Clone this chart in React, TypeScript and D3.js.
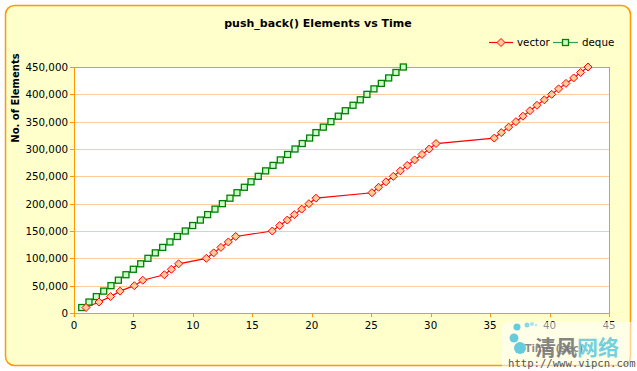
import React from "react";
import * as d3 from "d3";

const elements = [
  10000, 20000, 30000, 40000, 50000, 60000, 70000, 80000, 90000, 100000,
  110000, 120000, 130000, 140000, 150000, 160000, 170000, 180000, 190000, 200000,
  210000, 220000, 230000, 240000, 250000, 260000, 270000, 280000, 290000, 300000,
  310000, 320000, 330000, 340000, 350000, 360000, 370000, 380000, 390000, 400000,
  410000, 420000, 430000, 440000, 450000,
];
const vectorTimes = [
  1.01, 2.1, 3.08, 3.87, 5.07, 5.78, 7.6, 8.19, 8.8, 11.13, 11.75, 12.36, 12.98, 13.6,
  16.68, 17.3, 17.94, 18.53, 19.15, 19.76, 20.35,
  25.06, 25.62, 26.24, 26.86, 27.45, 28.03, 28.65, 29.27, 29.88, 30.45,
  35.35, 35.94, 36.56, 37.17, 37.76, 38.35, 38.94, 39.56, 40.18, 40.76, 41.38, 42.03, 42.61, 43.23,
];
const dequeTimes = [
  0.65, 1.26, 1.88, 2.5, 3.11, 3.73, 4.37, 4.99, 5.61, 6.22, 6.84, 7.46, 8.07, 8.69, 9.36,
  9.98, 10.63, 11.24, 11.86, 12.48, 13.12, 13.71, 14.33, 14.89, 15.5, 16.12, 16.74, 17.35,
  17.97, 18.59, 19.2, 19.82, 20.35, 20.97, 21.61, 22.23, 22.82, 23.47, 24.08, 24.64, 25.23,
  25.85, 26.47, 27.08, 27.7,
];
const xTicks = [0, 5, 10, 15, 20, 25, 30, 35, 40, 45];
const yTicks = [0, 50000, 100000, 150000, 200000, 250000, 300000, 350000, 400000, 450000];
const seriesNames = ["vector", "deque"];
const title = "push_back() Elements vs Time";
const xTitle = "Time (sec)";
const yTitle = "No. of Elements";

const W = 637;
const H = 371;
const plot = { left: 74, right: 609, top: 67, bottom: 313 };
const FONT = "'DejaVu Sans', Verdana, sans-serif";

function Diamond({ x, y }: { x: number; y: number }) {
  const r = 4;
  return (
    <path
      d={`M${x},${y - r}L${x + r},${y}L${x},${y + r}L${x - r},${y}Z`}
      fill="#FFCC99"
      stroke="#FF0000"
      strokeWidth={1}
    />
  );
}
function Square({ x, y }: { x: number; y: number }) {
  const s = 6;
  return (
    <rect x={x - s / 2} y={y - s / 2} width={s} height={s} fill="#CCFFCC" stroke="#008000" strokeWidth={1.3} />
  );
}

export default function App() {
  const x = d3.scaleLinear().domain([0, 45]).range([plot.left, plot.right]);
  const y = d3.scaleLinear().domain([0, 450000]).range([plot.bottom, plot.top]);
  const fmt = d3.format(",");
  const vecData = vectorTimes.map((t, i) => [t, elements[i]] as [number, number]);
  const deqData = dequeTimes.map((t, i) => [t, elements[i]] as [number, number]);
  const line = d3
    .line<[number, number]>()
    .x((d) => x(d[0]))
    .y((d) => y(d[1]));

  return (
    <svg width={W} height={H} style={{ position: "absolute", left: 0, top: 0 }} fontFamily={FONT}>
      <rect x={0} y={0} width={W} height={H} fill="#FFFFFF" />
      <rect x={5.5} y={5.5} width={625} height={360} rx={9} ry={9} fill="#FFFFCC" stroke="#FF9900" strokeWidth={1.5} />
      <text x={318} y={27} textAnchor="middle" fontSize={11} fontWeight="bold" fill="#000">
        {title}
      </text>
      {/* plot area */}
      <rect x={plot.left} y={plot.top} width={plot.right - plot.left} height={plot.bottom - plot.top} fill="#FFFFFF" />
      {yTicks.slice(1).map((t) => (
        <line key={"g" + t} x1={plot.left} x2={plot.right} y1={Math.round(y(t)) + 0.5} y2={Math.round(y(t)) + 0.5} stroke="#FFCC99" strokeWidth={1} />
      ))}
      <rect
        x={plot.left + 0.5}
        y={plot.top + 0.5}
        width={plot.right - plot.left}
        height={plot.bottom - plot.top}
        fill="none"
        stroke="#FF9900"
        strokeWidth={1}
      />
      {/* y axis */}
      {yTicks.map((t) => (
        <g key={"y" + t}>
          <line x1={plot.left - 4} x2={plot.left} y1={Math.round(y(t)) + 0.5} y2={Math.round(y(t)) + 0.5} stroke="#FF9900" />
          <text x={68} y={y(t) + 4} textAnchor="end" fontSize={10.3} fill="#000">
            {fmt(t)}
          </text>
        </g>
      ))}
      {/* x axis */}
      {xTicks.map((t) => (
        <g key={"x" + t}>
          <line x1={Math.round(x(t)) + 0.5} x2={Math.round(x(t)) + 0.5} y1={plot.bottom} y2={plot.bottom + 4} stroke="#FF9900" />
          <text x={x(t)} y={329} textAnchor="middle" fontSize={10.3} fill="#000">
            {t}
          </text>
        </g>
      ))}
      <text x={554} y={352} textAnchor="middle" fontSize={10} fontWeight="bold" fill="#000">
        {xTitle}
      </text>
      <text transform="translate(19,98) rotate(-90)" textAnchor="middle" fontSize={10} fontWeight="bold" fill="#000">
        {yTitle}
      </text>
      {/* series */}
      <path d={line(deqData) || ""} fill="none" stroke="#339966" strokeWidth={1.2} />
      <path d={line(vecData) || ""} fill="none" stroke="#FF0000" strokeWidth={1.2} />
      {deqData.map((d, i) => (
        <Square key={"d" + i} x={x(d[0])} y={y(d[1])} />
      ))}
      {vecData.map((d, i) => (
        <Diamond key={"v" + i} x={x(d[0])} y={y(d[1])} />
      ))}
      {/* legend */}
      <line x1={489} x2={513} y1={42.5} y2={42.5} stroke="#FF0000" strokeWidth={1.2} />
      <Diamond x={501} y={42.5} />
      <text x={517} y={46} fontSize={10.3} fill="#000">
        {seriesNames[0]}
      </text>
      <line x1={553} x2={578} y1={42.5} y2={42.5} stroke="#339966" strokeWidth={1.2} />
      <Square x={565.5} y={42.5} />
      <text x={582} y={46} fontSize={10.3} fill="#000">
        {seriesNames[1]}
      </text>
      {/* watermark */}
      <g>
        <path d="M502,371 L502,328 Q502,322 508,322 L637,322 L637,371 Z" fill="#FFFFFF" opacity={0.55} />
        <circle cx={517} cy={327} r={3.5} fill="#66CCDD" />
        <circle cx={527} cy={325} r={2.5} fill="#88D8E4" />
        <circle cx={532} cy={324} r={2} fill="#A8E2EA" />
        <circle cx={536} cy={325} r={1.5} fill="#C0EAF0" />
        <circle cx={514} cy={338} r={4.5} fill="#66CCDD" />
        <circle cx={520} cy={348} r={6} fill="#66CCDD" />
        <text x={535} y={355} fontSize={21} fontWeight="bold" fill="#777777" fontFamily="'Noto Sans CJK SC', sans-serif" opacity={0.9}>
          清风
        </text>
        <text x={577} y={355} fontSize={21} fontWeight="bold" fill="#66CCDD" fontFamily="'Noto Sans CJK SC', sans-serif" opacity={0.9}>
          网络
        </text>
        <text x={508} y={367} fontSize={10.6} fill="#555555" fontFamily="'DejaVu Sans Mono', monospace">
          http://www.vipcn.com
        </text>
      </g>
    </svg>
  );
}
